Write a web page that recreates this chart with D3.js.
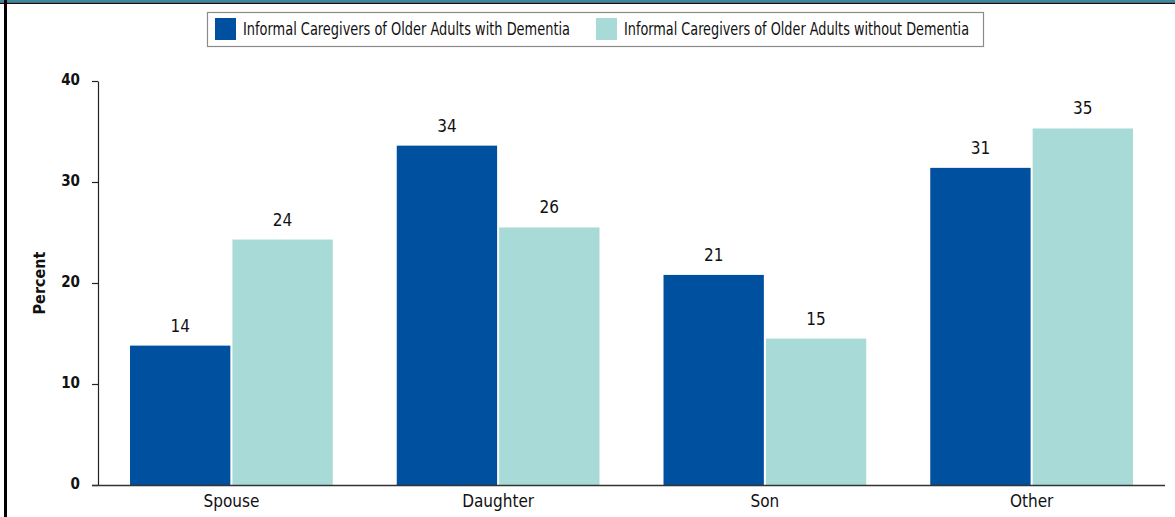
<!DOCTYPE html>
<html>
<head>
<meta charset="utf-8">
<script src="https://cdn.jsdelivr.net/npm/d3@7"></script>
<style>
  html, body { margin: 0; padding: 0; background: #fff; }
  svg { display: block; }
  svg text { font-family: "DejaVu Sans Condensed", "DejaVu Sans", sans-serif; font-stretch: condensed; }
</style>
</head>
<body>
<svg id="chart"></svg>
<script>
// chart data
const categories = ['Spouse', 'Daughter', 'Son', 'Other'];
const seriesNames = [
  'Informal Caregivers of Older Adults with Dementia',
  'Informal Caregivers of Older Adults without Dementia'
];
const withDementia = [13.8, 33.6, 20.8, 31.4];
const withoutDementia = [24.3, 25.5, 14.5, 35.3];
const withLabels = ['14', '34', '21', '31'];
const withoutLabels = ['24', '26', '15', '35'];
const yTicks = [0, 10, 20, 30, 40];

const width = 1175;
const height = 517;
const margin = { top: 81, right: 10, bottom: 32, left: 98 };
const colors = ['#0050a0', '#a8dbd7'];

const svg = d3.select('#chart').attr('width', width).attr('height', height);

// frame
svg.append('rect').attr('x', 0).attr('y', 0).attr('width', width).attr('height', 2.5).attr('fill', '#3b88a3');
svg.append('rect').attr('x', 0).attr('y', 2.5).attr('width', width).attr('height', 1.5).attr('fill', '#111');
svg.append('rect').attr('x', 4).attr('y', 0).attr('width', 3).attr('height', height).attr('fill', '#000');

const x = d3.scaleBand()
  .domain(categories)
  .range([margin.left, 1165])
  .paddingInner(0.24)
  .paddingOuter(0.12);

const xSub = d3.scaleBand()
  .domain([0, 1])
  .range([0, x.bandwidth()])
  .paddingInner(0.02);

const y = d3.scaleLinear()
  .domain([0, 40])
  .range([485, margin.top]);

const rows = categories.map((c, i) => ({
  cat: c,
  vals: [
    { s: 0, v: withDementia[i], label: withLabels[i] },
    { s: 1, v: withoutDementia[i], label: withoutLabels[i] }
  ]
}));

const groups = svg.append('g').selectAll('g')
  .data(rows)
  .enter()
  .append('g')
  .attr('transform', d => `translate(${x(d.cat)},0)`);

groups.selectAll('rect')
  .data(d => d.vals)
  .enter()
  .append('rect')
  .attr('x', d => xSub(d.s))
  .attr('y', d => y(d.v))
  .attr('width', xSub.bandwidth())
  .attr('height', d => y(0) - y(d.v))
  .attr('fill', d => colors[d.s]);

groups.selectAll('text')
  .data(d => d.vals)
  .enter()
  .append('text')
  .attr('x', d => xSub(d.s) + xSub.bandwidth() / 2)
  .attr('y', d => y(d.v) - 14)
  .attr('text-anchor', 'middle')
  .attr('font-size', 17)
  .attr('fill', '#111')
  .text(d => d.label);

// y axis
const yAxis = svg.append('g')
  .attr('transform', `translate(${margin.left},0)`)
  .call(d3.axisLeft(y).tickValues(yTicks).tickSize(6).tickSizeOuter(0));
yAxis.select('.domain').attr('stroke', '#222').attr('stroke-width', 1.2);
yAxis.selectAll('.tick line').attr('stroke', '#222').attr('stroke-width', 1.2);
yAxis.selectAll('.tick text')
  .attr('x', -18)
  .attr('dy', '0.2em')
  .attr('font-size', 15)
  .attr('font-weight', 'bold')
  .attr('fill', '#111');

// x axis
const xAxis = svg.append('g')
  .attr('transform', `translate(0,${y(0)})`)
  .call(d3.axisBottom(x).tickSize(0).tickSizeOuter(0));
xAxis.select('.domain')
  .attr('d', `M${margin.left - 6},0.5H1165`)
  .attr('stroke', '#333')
  .attr('stroke-width', 1.5);
xAxis.selectAll('.tick text')
  .attr('y', 10)
  .attr('dy', '0.71em')
  .attr('font-size', 17)
  .attr('fill', '#111');

// y title
svg.append('text')
  .attr('transform', 'rotate(-90)')
  .attr('x', -283)
  .attr('y', 45)
  .attr('text-anchor', 'middle')
  .attr('font-size', 16)
  .attr('font-weight', 'bold')
  .attr('fill', '#111')
  .text('Percent');

// legend
const legend = svg.append('g');
legend.append('rect')
  .attr('x', 207.5).attr('y', 12.5)
  .attr('width', 776).attr('height', 34)
  .attr('fill', '#fff')
  .attr('stroke', '#8a8a8a')
  .attr('stroke-width', 1.2);

const legendX = [215, 596];
const legendTextWidth = [327, 345];
seriesNames.forEach((name, i) => {
  legend.append('rect')
    .attr('x', legendX[i]).attr('y', 18)
    .attr('width', 21).attr('height', 22)
    .attr('fill', colors[i]);
  legend.append('text')
    .attr('x', legendX[i] + 28)
    .attr('y', 35)
    .attr('font-size', 17)
    .attr('textLength', legendTextWidth[i])
    .attr('lengthAdjust', 'spacingAndGlyphs')
    .attr('fill', '#111')
    .text(name);
});
</script>
</body>
</html>
